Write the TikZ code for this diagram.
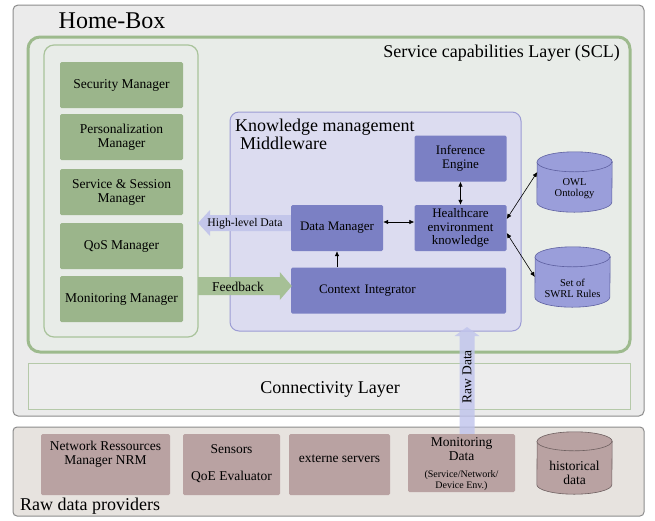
\documentclass[tikz,border=0pt]{standalone}
\usepackage{fontspec}
\setmainfont{Liberation Serif}
\usetikzlibrary{calc,arrows.meta}

\definecolor{homefill}{HTML}{EBEBEB}
\definecolor{homeline}{HTML}{8C8C8C}
\definecolor{sclfill}{HTML}{E8ECE8}
\definecolor{sclline}{HTML}{9DBA8D}
\definecolor{panelline}{HTML}{A9C39B}
\definecolor{mgrfill}{HTML}{9BB58B}
\definecolor{kmfill}{HTML}{DCDCF0}
\definecolor{kmline}{HTML}{9C9CD4}
\definecolor{kmbox}{HTML}{7B80C4}
\definecolor{dbfill}{HTML}{9A9EDA}
\definecolor{dbline}{HTML}{5E60A0}
\definecolor{hlarrow}{HTML}{C3C6EA}
\definecolor{fbarrow}{HTML}{A6C096}
\definecolor{rdarrow}{HTML}{BFC3EC}
\definecolor{connfill}{HTML}{EDEDED}
\definecolor{connline}{HTML}{B5C9A9}
\definecolor{provfill}{HTML}{E7E3DF}
\definecolor{provbox}{HTML}{B9A2A2}
\definecolor{provline}{HTML}{6E6060}

% cylinder drawn inside the bounding node #1, end ellipse half height #3
\newcommand\dbcyl[3]{%
  \filldraw[#2] ($(#1.south west)+(0,-#3)$)
    arc[start angle=180,end angle=360,x radius=0.5*\wd0,y radius=#3pt]
    -- ($(#1.north east)+(0,#3)$)
    arc[start angle=0,end angle=180,x radius=0.5*\wd0,y radius=#3pt] -- cycle;
  \draw[#2] ($(#1.north west)+(0,#3)$)
    arc[start angle=180,end angle=360,x radius=0.5*\wd0,y radius=#3pt];
}

\begin{document}
\begin{tikzpicture}[x=1pt,y=-1pt,
  txt/.style={inner sep=0pt,align=center,font=\fontsize{13.5}{14}\selectfont},
  big/.style={inner sep=0pt,font=\fontsize{18}{17.5}\selectfont},
  mgr/.style={txt,fill=mgrfill,rounded corners=1.5pt,minimum width=123pt,minimum height=46pt},
  kmb/.style={txt,fill=kmbox,rounded corners=1.5pt,minimum width=92pt,minimum height=46pt,
    font=\fontsize{13}{13.5}\selectfont},
  pbox/.style={inner sep=0pt,fill=provbox,rounded corners=1.5pt},
  dbbox/.style={inner sep=0pt,draw=none},
  dbst/.style={fill=dbfill,draw=dbline,line width=0.6pt},
  histst/.style={fill=provbox,draw=provline,line width=0.6pt},
  dbtext/.style={inner sep=0pt,align=center,font=\fontsize{10.5}{11}\selectfont},
  conn/.style={line width=0.6pt,{Latex[length=5pt,width=4.5pt]}-{Latex[length=5pt,width=4.5pt]}},
  conn1/.style={line width=0.6pt,-{Latex[length=5pt,width=4.5pt]}},
]
\useasboundingbox (0,0) rectangle (655,520);

% Home-Box frame
\draw[fill=homefill,draw=homeline,line width=1pt,rounded corners=5pt] (13,5) rectangle (644,416);
\node[inner sep=0pt,font=\fontsize{24}{24}\selectfont] (homebox) at (112,21) {Home-Box};

% Service capabilities layer
\draw[fill=sclfill,draw=sclline,line width=3pt,rounded corners=12pt] (28,37) rectangle (630,352);
\node[big,anchor=east] (scl) at (620,53) {Service capabilities Layer (SCL)};

% managers panel
\draw[fill=sclfill,draw=panelline,line width=1.2pt,rounded corners=10pt] (44,45) rectangle (198,337);
\coordinate (panelE) at (198,286);
\coordinate (panelHL) at (198,223);
\node[mgr] (sec)  at (121.5,85)  {Security Manager};
\node[mgr] (pers) at (121.5,137) {Personalization\\Manager};
\node[mgr] (sess) at (121.5,192) {Service \& Session\\Manager};
\node[mgr] (qos)  at (121.5,246) {QoS Manager};
\node[mgr] (mon)  at (121.5,299) {Monitoring Manager};

% knowledge management middleware
\draw[fill=kmfill,draw=kmline,line width=1pt,rounded corners=9pt] (230,112) rectangle (521,331);
\node[big,anchor=base west,align=left] (kmtitle) at (235,149) {Knowledge management\\\hspace{5pt}Middleware};
\coordinate (kmS) at (467,327);

\node[kmb] (inf) at (460.5,158.5) {Inference\\Engine};
\node[kmb] (dm)  at (337,228)     {Data Manager};
\node[kmb] (hek) at (460.5,228)   {Healthcare\\environment\\knowledge};
\node[kmb,minimum width=215pt,text width=159pt,inner xsep=28pt,align=left] (ci) at (398.5,290.5) {Context Integrator};

% ontology stores
\node[dbbox,minimum width=75pt,minimum height=60pt] (owl)  at (574.5,182) {};
\node[dbbox,minimum width=75pt,minimum height=60pt] (swrl) at (572.5,277) {};
\setbox0=\hbox{\hskip75pt}
\dbcyl{owl}{dbst}{10}
\dbcyl{swrl}{dbst}{10}
\node[dbtext] (owlt)  at (574.5,188.5) {OWL\\Ontology};
\node[dbtext] (swrlt) at (572.5,288)   {Set of\\SWRL Rules};

% links inside the middleware
\draw[conn] ($(dm.east)+(0,-6)$) -- ($(hek.west)+(0,-6)$);
\draw[conn] (inf.south) -- (hek.north);
\draw[conn1] (ci.north -| dm.south) -- (dm.south);
\draw[conn] ($(hek.east)+(0,-9)$) -- ($(owl.west)+(0.5,-10)$);
\draw[conn] ($(hek.east)+(0,5)$) -- (swrl.west);

% high-level data arrow
\coordinate (hlS) at ($(dm.west)+(0,-5)$);
\fill[hlarrow] (hlS) ++(0,-8) -- ($(panelHL)+(12,-8)$) -- ($(panelHL)+(12,-13)$) -- (panelHL)
  -- ($(panelHL)+(12,13)$) -- ($(panelHL)+(12,8)$) -- ($(hlS)+(0,8)$) -- cycle;
\node[inner sep=0pt,font=\fontsize{11.7}{12}\selectfont] (hltxt) at (245,224) {High-level Data};

% feedback arrow
\coordinate (fbE) at ($(ci.west)+(1,-4.5)$);
\fill[fbarrow] ($(panelE)+(0,-9)$) -- ($(fbE)+(-12,-9)$) -- ($(fbE)+(-12,-14)$) -- (fbE)
  -- ($(fbE)+(-12,14)$) -- ($(fbE)+(-12,9)$) -- ($(panelE)+(0,9)$) -- cycle;
\node[inner sep=0pt,font=\fontsize{13.5}{14}\selectfont] (fbtxt) at (238,287) {Feedback};

% connectivity layer
\draw[fill=connfill,draw=connline,line width=0.8pt] (28,363) rectangle (630,409);
\node[big] (conn) at (330,389) {Connectivity Layer};

% raw data providers
\draw[fill=provfill,draw=homeline,line width=1pt,rounded corners=4pt] (13,427) rectangle (644,516);
\node[big,anchor=west] (rawprov) at (20,506) {Raw data providers};

\node[pbox,minimum width=129pt,minimum height=61pt] (nrm)  at (105.5,464.5) {};
\node[pbox,minimum width=97pt,minimum height=61pt]  (sens) at (231.5,464.5) {};
\node[pbox,minimum width=101pt,minimum height=61pt] (ext)  at (339.5,464.5) {};
\node[pbox,minimum width=107pt,minimum height=58pt] (mond) at (461.5,463)   {};
\node[dbbox,minimum width=75pt,minimum height=62pt] (hist) at (574.5,463)   {};
\dbcyl{hist}{histst}{9.5}

\node[txt] (nrmt)  at (105.5,454.5) {Network Ressources\\Manager NRM};
\node[txt] (senst) at (231.5,449)   {Sensors};
\node[txt] (qoet)  at (231.5,477)   {QoE Evaluator};
\node[txt] (extt)  at (339.5,459)   {externe servers};
\node[txt] (mondt) at (461.5,449)   {Monitoring\\Data};
\node[inner sep=0pt,align=center,font=\fontsize{10}{11}\selectfont] (envt) at (461.5,480.5) {(Service/Network/\\Device Env.)};
\node[txt] (histt) at (574.5,473)   {historical\\data};

% raw data flowing up to the middleware
\coordinate (rdB) at (mond.north -| kmS);
\fill[rdarrow,opacity=0.8] ($(rdB)+(-7.5,0)$) -- ($(kmS)+(-7.5,9)$) -- ($(kmS)+(-12.5,9)$) -- (kmS)
  -- ($(kmS)+(12.5,9)$) -- ($(kmS)+(7.5,9)$) -- ($(rdB)+(7.5,0)$) -- cycle;
\node[inner sep=0pt,rotate=90,font=\fontsize{13.5}{14}\selectfont] (rdtxt) at (467,377) {Raw Data};

\end{tikzpicture}
\end{document}
